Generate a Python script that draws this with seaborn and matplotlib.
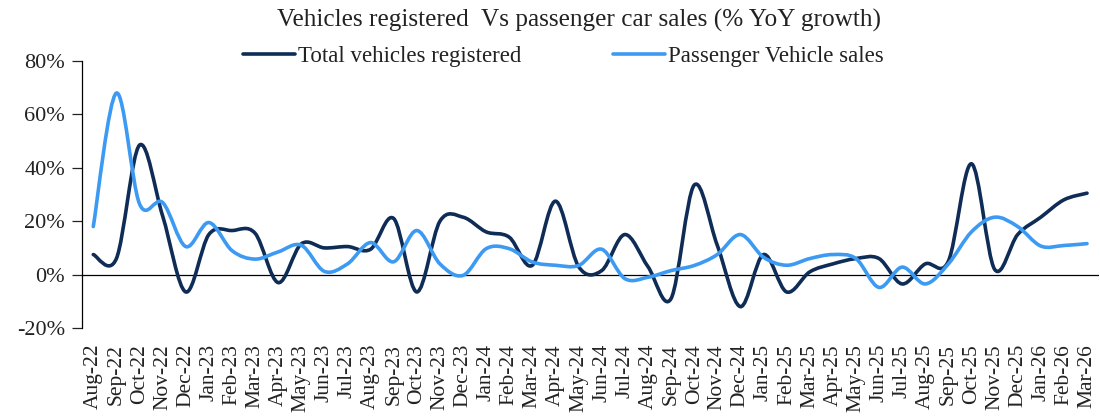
import numpy as np
import pandas as pd
import seaborn as sns
import matplotlib
matplotlib.use('Agg')
import matplotlib.pyplot as plt
import matplotlib.ticker as ticker
from matplotlib.path import Path
from matplotlib.patches import PathPatch

months = ['Aug-22', 'Sep-22', 'Oct-22', 'Nov-22', 'Dec-22', 'Jan-23', 'Feb-23', 'Mar-23',
          'Apr-23', 'May-23', 'Jun-23', 'Jul-23', 'Aug-23', 'Sep-23', 'Oct-23', 'Nov-23',
          'Dec-23', 'Jan-24', 'Feb-24', 'Mar-24', 'Apr-24', 'May-24', 'Jun-24', 'Jul-24',
          'Aug-24', 'Sep-24', 'Oct-24', 'Nov-24', 'Dec-24', 'Jan-25', 'Feb-25', 'Mar-25',
          'Apr-25', 'May-25', 'Jun-25', 'Jul-25', 'Aug-25', 'Sep-25', 'Oct-25', 'Nov-25',
          'Dec-25', 'Jan-26', 'Feb-26', 'Mar-26']

total_registered = [7.5, 6.0, 48.5, 22.0, -6.5, 15.0, 16.5, 15.5, -3.0, 11.5, 10.0, 10.5,
                    9.5, 21.0, -6.5, 20.0, 21.5, 16.0, 14.0, 3.5, 27.5, 3.0, 1.5, 15.0,
                    3.0, -9.0, 33.5, 11.0, -12.0, 7.5, -6.5, 1.0, 4.0, 6.0, 6.0, -3.5,
                    4.0, 5.0, 41.5, 2.0, 15.0, 21.5, 28.0, 30.5]

pv_sales = [18.0, 68.0, 26.5, 27.0, 10.5, 19.5, 9.0, 5.8, 8.5, 11.0, 1.2, 4.0,
            12.0, 4.8, 16.5, 4.0, -0.3, 9.7, 9.7, 4.7, 3.5, 3.4, 9.5, -1.5,
            -1.0, 1.5, 3.4, 7.5, 15.0, 6.5, 3.5, 6.0, 7.5, 6.0, -4.8, 2.8,
            -3.5, 4.0, 16.0, 21.5, 18.0, 10.7, 10.9, 11.6]

series_names = ['Total vehicles registered', 'Passenger Vehicle sales']
colors = ['#0E2C55', '#3D9AF2']

df = pd.DataFrame({
    'idx': list(range(len(months))) * 2,
    'value': total_registered + pv_sales,
    'series': [series_names[0]] * len(months) + [series_names[1]] * len(months),
})

sns.set_style('white')
plt.rcParams['font.family'] = ['Liberation Serif', 'DejaVu Serif']

fig = plt.figure(figsize=(11, 4.19), dpi=100)
ax = fig.add_axes([0.0743, 0.2172, 0.9244, 0.6372])

sns.lineplot(data=df, x='idx', y='value', hue='series', palette=colors,
             linewidth=2.6, ax=ax, legend=True)

ax.set_xlim(-0.5, len(months) - 0.5)
ax.set_ylim(-20, 80)
ax.yaxis.set_major_locator(ticker.MultipleLocator(20))
ax.yaxis.set_major_formatter(ticker.FuncFormatter(lambda v, p: f'{v:.0f}%'))
ax.set_xticks(range(len(months)))
ax.set_xticklabels(months, rotation=90)
ax.set_xlabel('')
ax.set_ylabel('')

for s in ['top', 'right', 'bottom']:
    ax.spines[s].set_visible(False)
ax.spines['left'].set_color('black')
ax.spines['left'].set_linewidth(0.9)
ax.axhline(0, color='black', linewidth=0.9, zorder=1)

ax.tick_params(axis='y', which='major', left=True, length=7, width=0.9,
               direction='out', labelsize=16, pad=5, colors='#222222')
ax.tick_params(axis='x', which='major', bottom=False, labelsize=15.5, pad=8,
               colors='#222222')

handles, labels = ax.get_legend_handles_labels()
leg = ax.legend(handles, labels, loc='center', bbox_to_anchor=(0.512, 0.866),
                bbox_transform=fig.transFigure, ncol=2, frameon=False,
                fontsize=16.5, handlelength=2.27, handletextpad=0.13,
                columnspacing=4.0, borderpad=0, borderaxespad=0)
for t in leg.get_texts():
    t.set_color('#222222')

# smooth the lines the way the original spreadsheet chart does
for line, col in zip(ax.lines[:2], colors):
    x, y = line.get_xdata(), line.get_ydata()
    pts = np.column_stack([x, y])
    verts = [pts[0]]
    codes = [Path.MOVETO]
    n = len(pts)
    for i in range(n - 1):
        p0 = pts[max(i - 1, 0)]
        p1 = pts[i]
        p2 = pts[i + 1]
        p3 = pts[min(i + 2, n - 1)]
        c1 = p1 + (p2 - p0) / 6.0
        c2 = p2 - (p3 - p1) / 6.0
        verts += [c1, c2, p2]
        codes += [Path.CURVE4] * 3
    ax.add_patch(PathPatch(Path(verts, codes), facecolor='none', edgecolor=col,
                           linewidth=2.6, capstyle='round', joinstyle='round',
                           zorder=3))
    line.set_visible(False)

fig.suptitle('Vehicles registered  Vs passenger car sales (% YoY growth)',
             x=0.526, y=0.978, fontsize=18.2, color='#222222')

fig.savefig('out.png', dpi=100)
